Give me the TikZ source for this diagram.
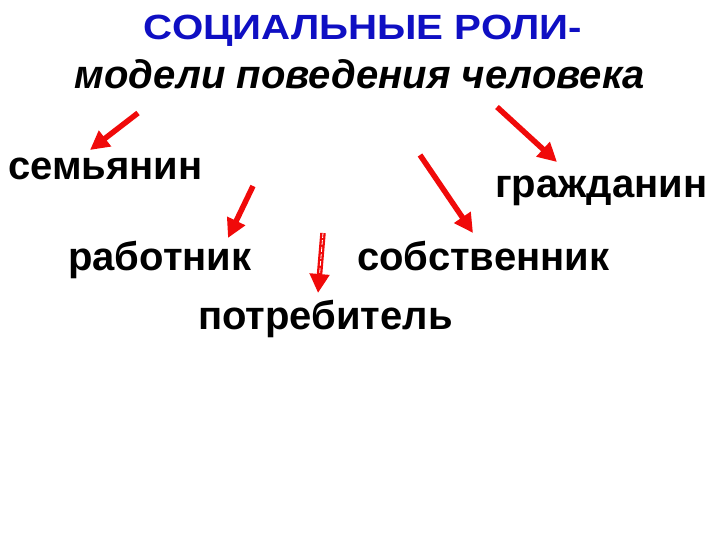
\documentclass[tikz,border=0pt]{standalone}
\usepackage{fontspec}
\setmainfont{Liberation Sans}
\usepackage{tikz}
\usetikzlibrary{arrows.meta}
\usetikzlibrary{positioning}

\definecolor{titleblue}{RGB}{15,15,195}
\definecolor{arrowred}{RGB}{240,10,10}

\begin{document}
\begin{tikzpicture}[x=1pt,y=-1pt,
    every node/.style={inner sep=0pt,font=\bfseries\fontsize{40}{42}\selectfont},
    role/.style={anchor=base west},
    redarrow/.style={draw=arrowred,line width=5.5pt,-{Triangle[length=19pt,width=19pt]}},
    striped/.style={postaction={draw=white,line width=0.8pt,dash pattern=on 5pt off 2pt,-,shorten >=20pt}}]

	\useasboundingbox (0,0) rectangle (720,540);

	% title
	\node[anchor=base,text=titleblue,font=\bfseries\fontsize{35}{38}\selectfont] (title) at (363,40) {\scalebox{1.15}[1]{СОЦИАЛЬНЫЕ РОЛИ-}};
	\node[anchor=base,font=\bfseries\itshape\fontsize{40}{42}\selectfont] (sub) at (360,89) {модели поведения человека};

	% roles
	\node[role] (sem) at (8,180) {семьянин};
	\node[role] (grazh) at (495,198) {гражданин};
	\node[role] (rab) at (68,270) {работник};
	\node[role] (sob) at (357,270) {собственник};
	\node[role] (potr) at (198,329) {потребитель};

	% arrows
	\coordinate (a1) at (138,113);
	\coordinate (b1) at (90,150);
	\coordinate (a2) at (253,186);
	\coordinate (b2) at (228,238);
	\coordinate (a3) at (420,155);
	\coordinate (b3) at (473,233);
	\coordinate (a4) at (497,107);
	\coordinate (b4) at (557,162);
	\coordinate (a5) at (323,233);
	\coordinate (b5) at (318,293);

	\draw[redarrow] (a1) -- (b1);
	\draw[redarrow] (a2) -- (b2);
	\draw[redarrow] (a3) -- (b3);
	\draw[redarrow] (a4) -- (b4);
	\draw[redarrow,striped] (a5) -- (b5);
\end{tikzpicture}
\end{document}
